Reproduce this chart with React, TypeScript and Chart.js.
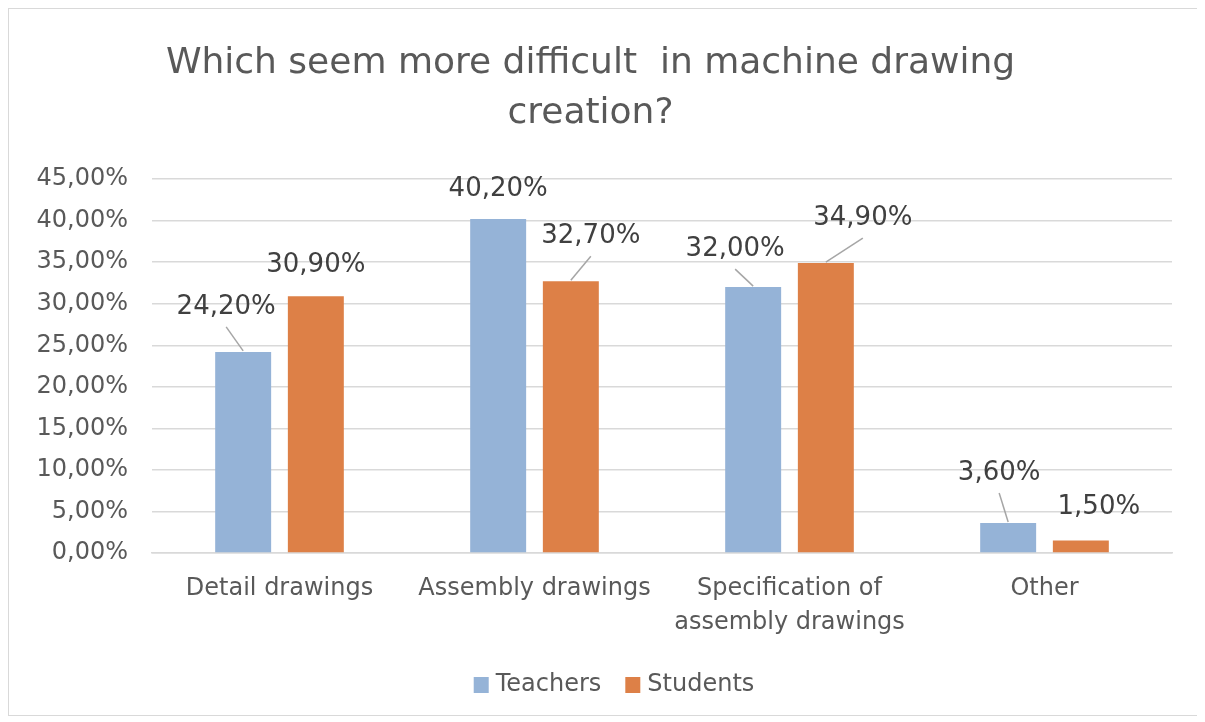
import React, { useEffect, useRef } from 'react';
import { Chart, registerables } from 'chart.js';

Chart.register(...registerables);

const categories: (string | string[])[] = [
  'Detail drawings',
  'Assembly drawings',
  ['Specification of', 'assembly drawings'],
  'Other',
];
const teachers = [24.2, 40.2, 32.0, 3.6];
const students = [30.9, 32.7, 34.9, 1.5];
const seriesNames = ['Teachers', 'Students'];
const yMax = 45;
const yStep = 5;
const titleLines = ['Which seem more difficult  in machine drawing', 'creation?'];

// label placement style: [dx, dy, leader line]
const labelPlacement: [number, number, boolean][][] = [
  [[-17, -45, true], [0, -30, false], [-18, -38, true], [-9, -50, true]],
  [[0, -31, false], [20, -45, true], [37, -45, true], [18, -33, false]],
];

const FONT = '"DejaVu Sans", sans-serif';
const fmt = (v: number) => v.toFixed(2).replace('.', ',') + '%';

const dataLabelPlugin = {
  id: 'dataLabelPlugin',
  afterDatasetsDraw(chart: any) {
    const ctx = chart.ctx;
    ctx.save();
    chart.data.datasets.forEach((ds: any, di: number) => {
      const meta = chart.getDatasetMeta(di);
      meta.data.forEach((bar: any, i: number) => {
        const [dx, dy, leader] = labelPlacement[di][i];
        const lx = bar.x + dx;
        const ly = bar.y + dy;
        if (leader) {
          ctx.beginPath();
          ctx.strokeStyle = '#a6a6a6';
          ctx.lineWidth = 1.5;
          ctx.moveTo(lx, ly + 20);
          ctx.lineTo(bar.x, bar.y - 1);
          ctx.stroke();
        }
        ctx.fillStyle = '#404040';
        ctx.font = `26px ${FONT}`;
        ctx.textAlign = 'center';
        ctx.textBaseline = 'middle';
        ctx.fillText(fmt(ds.data[i]), lx, ly);
      });
    });
    ctx.restore();
  },
};

// legend style
const LEGEND_Y = 676;
const LEGEND_CENTER_OFFSET = 10;
const LEGEND_BOX_W = 15;
const LEGEND_BOX_H = 16;
const LEGEND_BOX_GAP = 7;
const LEGEND_ITEM_GAP = 24;

const legendPlugin = {
  id: 'customLegend',
  afterDraw(chart: any) {
    const ctx = chart.ctx;
    ctx.save();
    ctx.font = `24px ${FONT}`;
    const items = chart.data.datasets.map((ds: any) => ({
      text: ds.label,
      color: ds.backgroundColor,
      w: ctx.measureText(ds.label).width,
    }));
    const total =
      items.reduce((s: number, it: any) => s + LEGEND_BOX_W + LEGEND_BOX_GAP + it.w, 0) +
      LEGEND_ITEM_GAP * (items.length - 1);
    let x = chart.width / 2 + LEGEND_CENTER_OFFSET - total / 2;
    items.forEach((it: any) => {
      ctx.fillStyle = it.color;
      ctx.fillRect(x, LEGEND_Y - LEGEND_BOX_H / 2, LEGEND_BOX_W, LEGEND_BOX_H);
      x += LEGEND_BOX_W + LEGEND_BOX_GAP;
      ctx.fillStyle = '#595959';
      ctx.textAlign = 'left';
      ctx.textBaseline = 'middle';
      ctx.fillText(it.text, x, LEGEND_Y);
      x += it.w + LEGEND_ITEM_GAP;
    });
    ctx.restore();
  },
};

export default function App() {
  const ref = useRef<HTMLCanvasElement | null>(null);
  useEffect(() => {
    if (!ref.current) return;
    const chart = new Chart(ref.current, {
      type: 'bar',
      data: {
        labels: categories,
        datasets: [
          { label: seriesNames[0], data: teachers, backgroundColor: '#95B3D7', categoryPercentage: 0.57, barPercentage: 0.77 },
          { label: seriesNames[1], data: students, backgroundColor: '#DD8047', categoryPercentage: 0.57, barPercentage: 0.77 },
        ],
      },
      options: {
        animation: false,
        responsive: true,
        maintainAspectRatio: false,
        layout: { padding: { left: 0, right: 27, top: 0, bottom: 52 } },
        plugins: {
          tooltip: { enabled: false },
          title: {
            display: true,
            text: titleLines,
            color: '#595959',
            font: { family: FONT, size: 36, weight: 'normal', lineHeight: 1.39 },
            padding: { top: 30, bottom: 40 },
          },
          legend: { display: false },
        },
        scales: {
          x: {
            grid: { display: false },
            border: { color: '#d9d9d9', width: 1.5 },
            ticks: {
              color: '#595959',
              font: { family: FONT, size: 24, lineHeight: 1.4 },
              padding: 11,
              maxRotation: 0,
              autoSkip: false,
            },
            afterFit(scale: any) {
              scale.height = 110;
            },
          },
          y: {
            min: 0,
            max: yMax,
            ticks: {
              stepSize: yStep,
              color: '#595959',
              font: { family: FONT, size: 24 },
              padding: 24,
              callback: (v: any) => fmt(Number(v)),
            },
            grid: { color: '#d9d9d9', lineWidth: 1.5, drawTicks: false },
            border: { display: false },
            afterFit(scale: any) {
              scale.width = 143;
            },
          },
        },
      },
      plugins: [dataLabelPlugin, legendPlugin],
    } as any);
    return () => chart.destroy();
  }, []);

  return (
    <div style={{ width: 1190, height: 706, border: '1px solid #d9d9d9', position: 'relative', background: '#fff' }}>
      <canvas ref={ref} />
    </div>
  );
}
